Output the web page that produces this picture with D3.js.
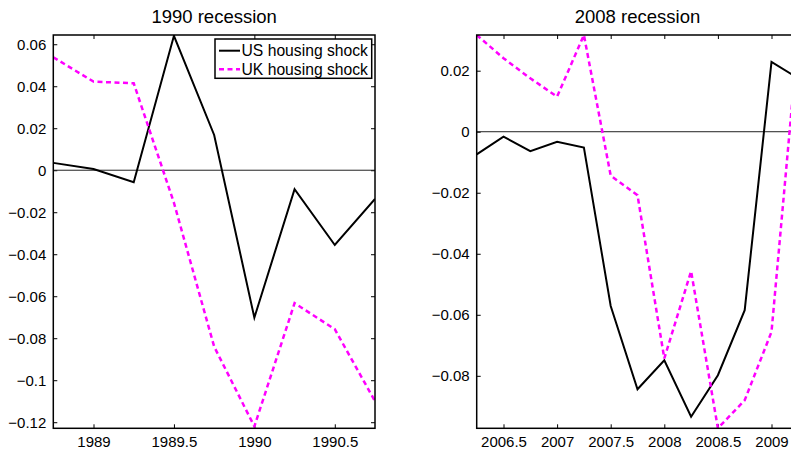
<!DOCTYPE html>
<html>
<head>
<meta charset="utf-8">
<script src="https://cdn.jsdelivr.net/npm/d3@7"></script>
<style>
  html, body { margin: 0; padding: 0; background: #fff; overflow: hidden; }
  text { font-family: "Liberation Sans", Arial, Helvetica, sans-serif; fill: #000; }
</style>
</head>
<body>
<svg id="chart" width="791" height="451"></svg>
<script>
// ---- Data ----
const titles = ["1990 recession", "2008 recession"];
const seriesNames = ["US housing shock", "UK housing shock"];

const quarters1990 = [1988.75, 1989, 1989.25, 1989.5, 1989.75, 1990, 1990.25, 1990.5, 1990.75];
const us1990 = [0.0035, 0.0006, -0.0057, 0.0640, 0.0168, -0.0702, -0.0090, -0.0356, -0.0137];
const uk1990 = [0.0538, 0.0422, 0.0414, -0.0155, -0.0840, -0.1220, -0.0633, -0.0757, -0.1100];

const quarters2008 = [2006.25, 2006.5, 2006.75, 2007, 2007.25, 2007.5, 2007.75, 2008, 2008.25, 2008.5, 2008.75, 2009, 2009.25];
const us2008 = [-0.0074, -0.0016, -0.0064, -0.0033, -0.0052, -0.0571, -0.0844, -0.0749, -0.0934, -0.0798, -0.0585, 0.0229, 0.0175];
const uk2008 = [0.0317, 0.0241, 0.0175, 0.0115, 0.0317, -0.0144, -0.0208, -0.0743, -0.0457, -0.0972, -0.0880, -0.0656, 0.0317];

const xTicks1990 = [1989, 1989.5, 1990, 1990.5];
const yTicks1990 = [0.06, 0.04, 0.02, 0, -0.02, -0.04, -0.06, -0.08, -0.1, -0.12];
const xTicks2008 = [2006.5, 2007, 2007.5, 2008, 2008.5, 2009];
const yTicks2008 = [0.02, 0, -0.02, -0.04, -0.06, -0.08];

const xDomain1990 = [1988.75, 1990.75];
const yDomain1990 = [-0.1229, 0.0644];
const xDomain2008 = [2006.25, 2009.25];
const yDomain2008 = [-0.0972, 0.0317];

// ---- Drawing ----
const svg = d3.select("#chart");
const plotTop = 35, plotBottom = 428.3;
const panels = [
  { left: 53.3, right: 375, xs: quarters1990, us: us1990, uk: uk1990, xt: xTicks1990, yt: yTicks1990, xd: xDomain1990, yd: yDomain1990, title: titles[0], legend: true },
  { left: 476.7, right: 798.3, xs: quarters2008, us: us2008, uk: uk2008, xt: xTicks2008, yt: yTicks2008, xd: xDomain2008, yd: yDomain2008, title: titles[1], legend: false }
];

const fmt = v => {
  if (v === 0) return "0";
  const s = String(+Math.abs(v).toFixed(4));
  return v < 0 ? "\u2212" + s : s;
};

panels.forEach((p, i) => {
  const x = d3.scaleLinear().domain(p.xd).range([p.left, p.right]);
  const y = d3.scaleLinear().domain(p.yd).range([plotBottom, plotTop]);
  const g = svg.append("g");

  const clipId = "clip" + i;
  svg.append("clipPath").attr("id", clipId).append("rect")
    .attr("x", p.left).attr("y", plotTop).attr("width", p.right - p.left).attr("height", plotBottom - plotTop);

  // Title
  g.append("text").attr("x", (p.left + p.right) / 2).attr("y", 23)
    .attr("text-anchor", "middle").style("font-size", "18.5px").text(p.title);

  // Axes (MATLAB style: inward ticks on all sides)
  const tickLen = 4;
  const axB = d3.axisBottom(x).tickValues(p.xt).tickSize(-tickLen).tickPadding(8).tickFormat(d => String(d));
  const axT = d3.axisTop(x).tickValues(p.xt).tickSize(-tickLen).tickFormat("");
  const axL = d3.axisLeft(y).tickValues(p.yt).tickSize(-tickLen).tickPadding(7).tickFormat(fmt);
  const axR = d3.axisRight(y).tickValues(p.yt).tickSize(-tickLen).tickFormat("");

  const gb = g.append("g").attr("transform", `translate(0,${plotBottom})`).call(axB);
  const gt = g.append("g").attr("transform", `translate(0,${plotTop})`).call(axT);
  const gl = g.append("g").attr("transform", `translate(${p.left},0)`).call(axL);
  const gr = g.append("g").attr("transform", `translate(${p.right},0)`).call(axR);
  [gb, gt, gl, gr].forEach(a => {
    a.select(".domain").remove();
    a.selectAll(".tick line").attr("stroke", "#000").attr("stroke-width", 1);
    a.selectAll("text").style("font-size", "15px").attr("fill", "#000");
  });

  // Zero line
  g.append("line").attr("x1", p.left).attr("x2", p.right)
    .attr("y1", y(0)).attr("y2", y(0)).attr("stroke", "#222").attr("stroke-width", 1);

  // Lines
  const line = d3.line().x((d, j) => x(p.xs[j])).y(d => y(d));
  const lg = g.append("g").attr("clip-path", `url(#${clipId})`);
  lg.append("path").datum(p.us).attr("d", line).attr("fill", "none")
    .attr("stroke", "#000").attr("stroke-width", 2).attr("stroke-linejoin", "miter");
  lg.append("path").datum(p.uk).attr("d", line).attr("fill", "none")
    .attr("stroke", "#ff00ff").attr("stroke-width", 2.5).attr("stroke-dasharray", "5,3.5");

  // Box
  g.append("rect").attr("x", p.left).attr("y", plotTop)
    .attr("width", p.right - p.left).attr("height", plotBottom - plotTop)
    .attr("fill", "none").attr("stroke", "#000").attr("stroke-width", 1.5);

  // Legend
  if (p.legend) {
    const lx = 215, ly = 39, lw = 156.7, lh = 39.3;
    const leg = g.append("g");
    leg.append("rect").attr("x", lx).attr("y", ly).attr("width", lw).attr("height", lh)
      .attr("fill", "#fff").attr("stroke", "#000").attr("stroke-width", 1.5);
    const rows = [
      { name: seriesNames[0], color: "#000", dash: null, w: 2, cy: 50.7 },
      { name: seriesNames[1], color: "#ff00ff", dash: "5,3.5", w: 2.5, cy: 69.3 }
    ];
    rows.forEach(r => {
      leg.append("line").attr("x1", 219).attr("x2", 240).attr("y1", r.cy).attr("y2", r.cy)
        .attr("stroke", r.color).attr("stroke-width", r.w).attr("stroke-dasharray", r.dash);
      leg.append("text").attr("x", 241.5).attr("y", r.cy).attr("dy", "0.36em")
        .style("font-size", "15.7px").text(r.name);
    });
  }
});
</script>
</body>
</html>
